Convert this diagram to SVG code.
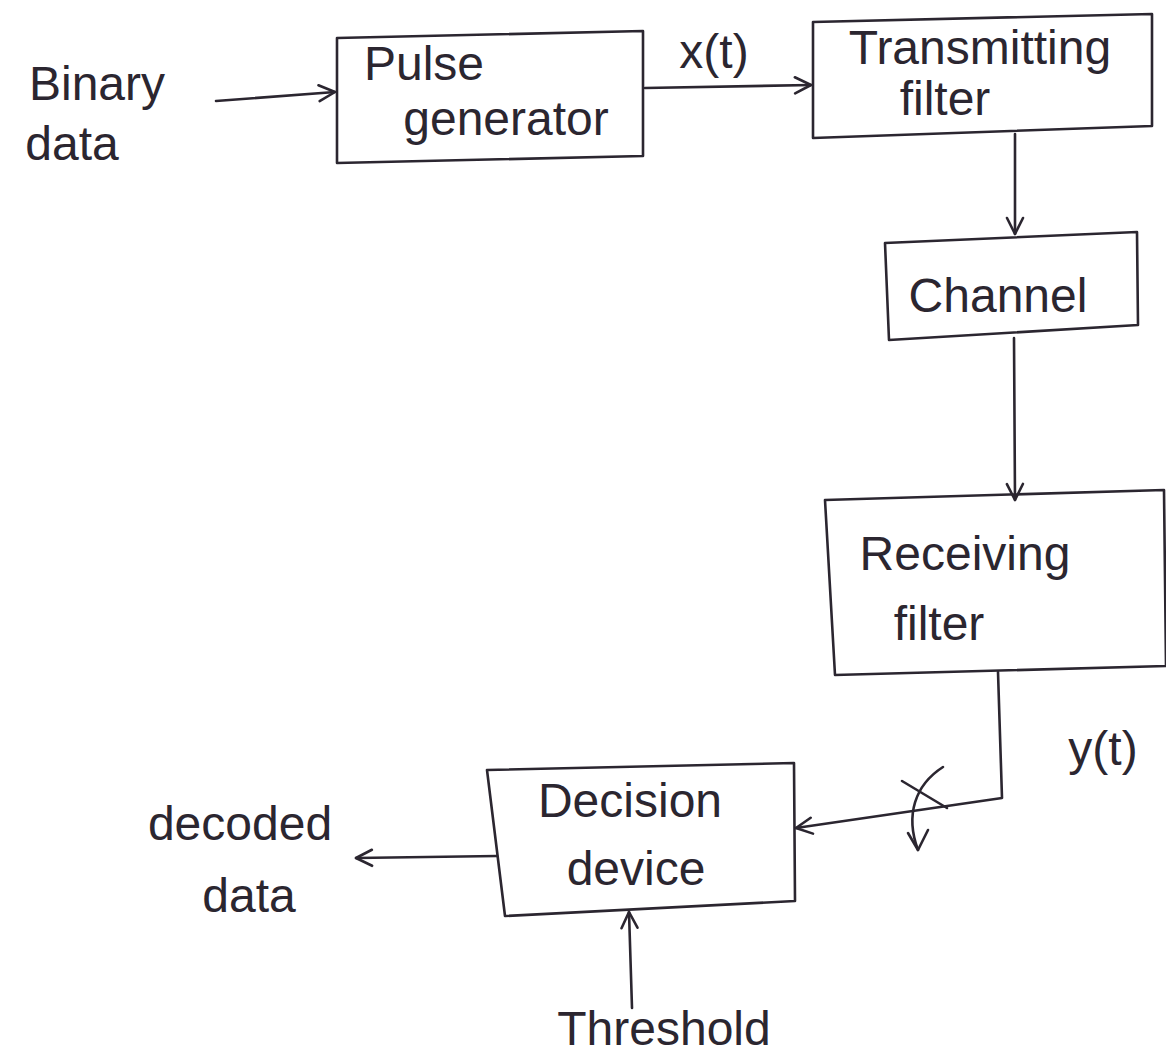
<svg xmlns="http://www.w3.org/2000/svg" width="1166" height="1062" viewBox="0 0 1166 1062">
<style>
.box{fill:none;stroke:#2b2630;stroke-width:2.6;stroke-linejoin:round}
.ln{fill:none;stroke:#2b2630;stroke-width:2.6;stroke-linecap:round;stroke-linejoin:round}
text{font-family:"Liberation Sans","DejaVu Sans",sans-serif;font-size:48px;fill:#2b2630;text-anchor:middle}
</style>
<defs>
<marker id="ah" viewBox="0 0 20 20" refX="18" refY="10" markerWidth="20" markerHeight="20" markerUnits="userSpaceOnUse" orient="auto">
<path d="M2,2 L18,10 L2,18" fill="none" stroke="#2b2630" stroke-width="2.6" stroke-linecap="round" stroke-linejoin="round"/>
</marker>
</defs>
<rect width="1166" height="1062" fill="#ffffff"/>
<g id="n-binary"><text x="97" y="100">Binary</text><text x="72" y="160" font-size="54">data</text></g>
<g id="n-pulse"><path class="box" d="M337,38 L643,31 L643,156 L337,163 Z"/><text x="424" y="80">Pulse</text><text x="506" y="135" font-size="52">generator</text></g>
<g id="n-xt"><text x="714" y="68" font-size="52">x(t)</text></g>
<g id="n-tx"><path class="box" d="M813,22 L1152,14 L1152,126 L813,138 Z"/><text x="980" y="64">Transmitting</text><text x="945" y="115" font-size="54">filter</text></g>
<g id="n-channel"><path class="box" d="M885,243 L1137,232 L1138,325 L889,340 Z"/><text x="998" y="312">Channel</text></g>
<g id="n-rx"><path class="box" d="M825,500 L1164,490 L1166,666 L835,675 Z"/><text x="965" y="570" font-size="50">Receiving</text><text x="939" y="640" font-size="56">filter</text></g>
<g id="n-yt"><text x="1103" y="765" font-size="56">y(t)</text></g>
<g id="n-decision"><path class="box" d="M487,770 L794,763 L795,901 L505,916 Z"/><text x="630" y="817" font-size="52">Decision</text><text x="636" y="885" font-size="52">device</text></g>
<g id="n-decoded"><text x="240" y="840">decoded</text><text x="249" y="912" font-size="54">data</text></g>
<g id="n-threshold"><text x="664" y="1045" font-size="56">Threshold</text></g>
<g id="connectors">
<path class="ln" d="M216,101 L335,92" marker-end="url(#ah)"/>
<path class="ln" d="M645,88 L811,85" marker-end="url(#ah)"/>
<path class="ln" d="M1015,134 L1015,234" marker-end="url(#ah)"/>
<path class="ln" d="M1014,338 L1015,500" marker-end="url(#ah)"/>
<path class="ln" d="M998,672 L1002,798 L796,828" marker-end="url(#ah)"/>
<path class="ln" d="M902,781 L947,808"/>
<path class="ln" d="M943,767 C915,785 905,815 918,850"/>
<path class="ln" d="M908,833 L918,850 L928,830"/>
<path class="ln" d="M497,856 L356,858" marker-end="url(#ah)"/>
<path class="ln" d="M632,1008 L629,912" marker-end="url(#ah)"/>
</g>
</svg>
